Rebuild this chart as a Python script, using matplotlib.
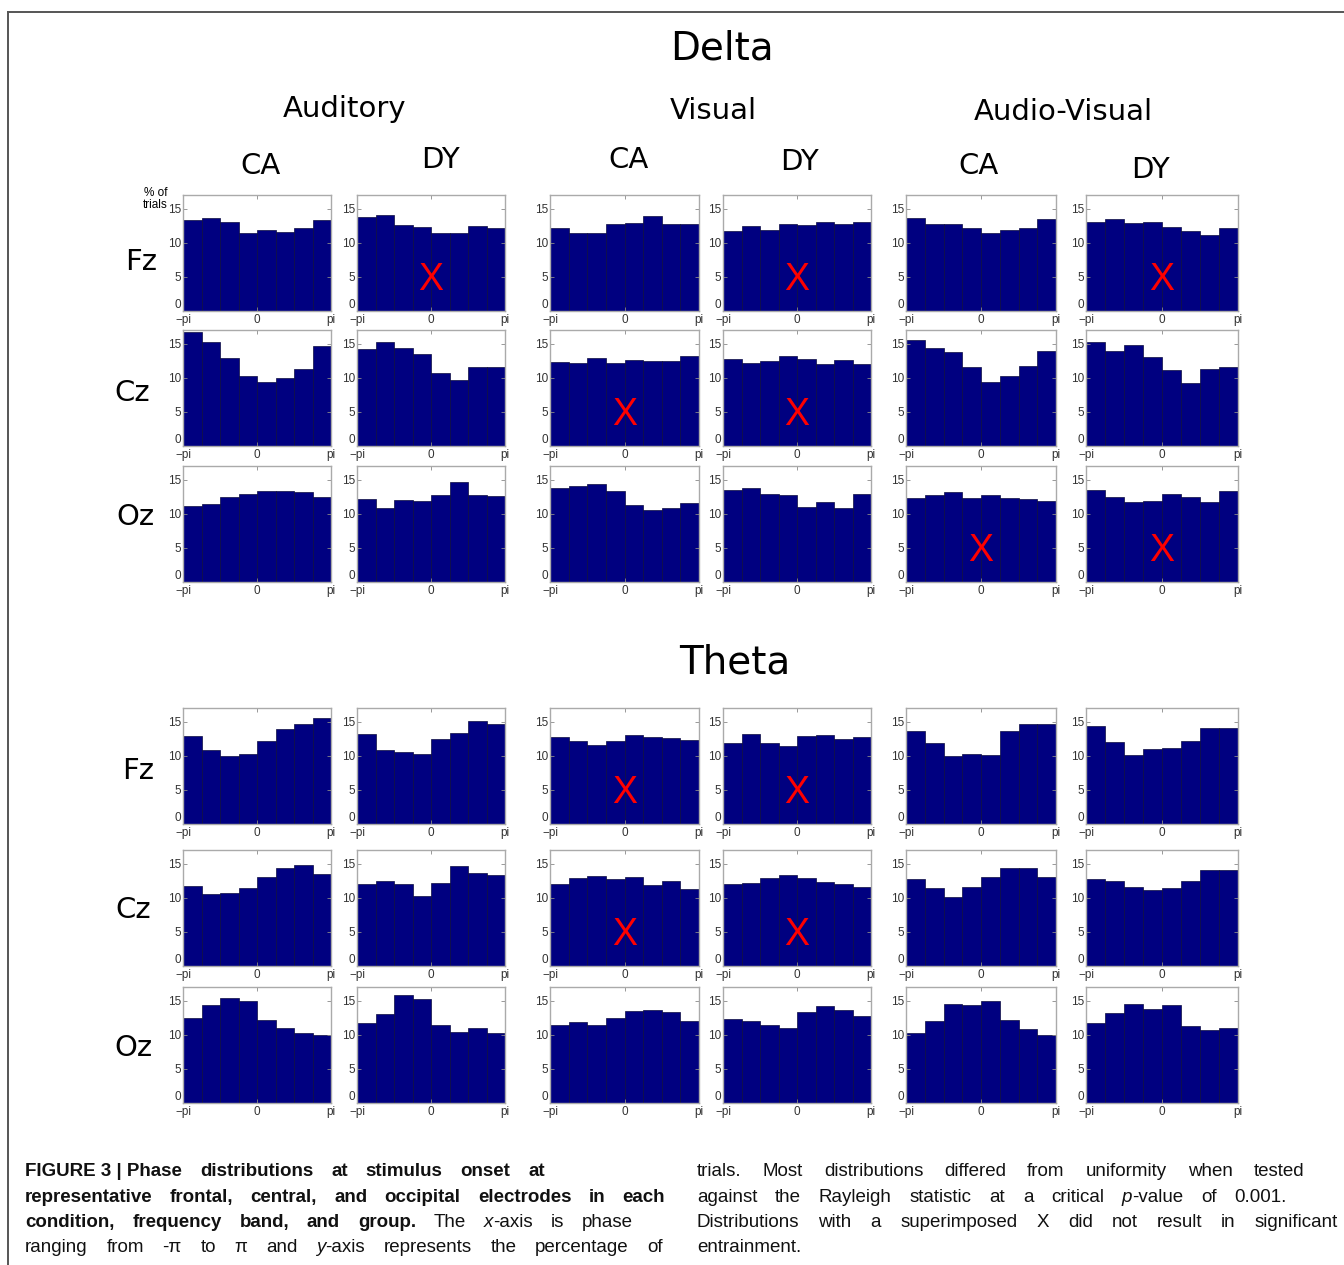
import numpy as np
import matplotlib.pyplot as plt
from matplotlib.lines import Line2D

W, H = 1344, 1265
narrow = ['Liberation Sans Narrow', 'DejaVu Sans Condensed', 'Liberation Sans', 'DejaVu Sans']

groups = ['Auditory', 'Visual', 'Audio-Visual']
subjects = ['CA', 'DY', 'CA', 'DY', 'CA', 'DY']
electrodes = ['Fz', 'Cz', 'Oz']

# % of trials in each of 8 phase bins (-pi..pi)
# columns: Aud CA, Aud DY, Vis CA, Vis DY, AV CA, AV DY
delta_fz = [[13.4, 13.7, 13.1, 11.5, 11.9, 11.6, 12.2, 13.4],
            [13.8, 14.0, 12.6, 12.3, 11.5, 11.5, 12.5, 12.2],
            [12.2, 11.4, 11.5, 12.7, 12.9, 13.9, 12.8, 12.8],
            [11.7, 12.4, 11.8, 12.7, 12.6, 13.1, 12.8, 13.1],
            [13.6, 12.7, 12.8, 12.2, 11.5, 11.9, 12.2, 13.5],
            [13.0, 13.5, 12.9, 13.0, 12.3, 11.7, 11.2, 12.2]]
delta_cz = [[16.7, 15.2, 12.9, 10.3, 9.4, 10.0, 11.3, 14.6],
            [14.2, 15.3, 14.4, 13.5, 10.7, 9.6, 11.6, 11.6],
            [12.3, 12.1, 12.9, 12.1, 12.6, 12.4, 12.4, 13.2],
            [12.7, 12.1, 12.4, 13.2, 12.7, 12.0, 12.6, 12.0],
            [15.6, 14.3, 13.8, 11.6, 9.4, 10.3, 11.7, 13.9],
            [15.2, 13.9, 14.8, 13.0, 11.1, 9.2, 11.3, 11.6]]
delta_oz = [[11.2, 11.4, 12.4, 12.9, 13.4, 13.3, 13.2, 12.5],
            [12.2, 10.9, 12.0, 11.8, 12.7, 14.6, 12.7, 12.6],
            [13.8, 14.0, 14.4, 13.4, 11.3, 10.6, 10.9, 11.6],
            [13.5, 13.8, 12.9, 12.8, 11.0, 11.7, 10.9, 12.9],
            [12.3, 12.8, 13.2, 12.3, 12.8, 12.3, 12.2, 11.8],
            [13.5, 12.4, 11.7, 11.8, 12.9, 12.5, 11.7, 13.3]]
theta_fz = [[12.9, 10.9, 10.0, 10.2, 12.1, 13.9, 14.6, 15.6],
            [13.2, 10.8, 10.6, 10.3, 12.5, 13.4, 15.1, 14.6],
            [12.7, 12.2, 11.6, 12.1, 13.1, 12.8, 12.6, 12.3],
            [11.9, 13.2, 11.8, 11.5, 12.9, 13.0, 12.4, 12.7],
            [13.6, 11.9, 9.9, 10.3, 10.1, 13.6, 14.7, 14.7],
            [14.4, 12.0, 10.1, 11.0, 11.1, 12.1, 14.0, 14.1]]
theta_cz = [[11.7, 10.5, 10.7, 11.4, 13.0, 14.3, 14.8, 13.5],
            [12.0, 12.5, 12.0, 10.3, 12.1, 14.6, 13.6, 13.3],
            [12.0, 12.9, 13.2, 12.7, 13.1, 11.9, 12.4, 11.3],
            [12.0, 12.1, 12.9, 13.3, 12.9, 12.3, 12.0, 11.6],
            [12.7, 11.5, 10.1, 11.6, 13.0, 14.4, 14.3, 13.0],
            [12.7, 12.4, 11.6, 11.2, 11.4, 12.5, 14.0, 14.0]]
theta_oz = [[12.5, 14.3, 15.4, 15.0, 12.2, 11.0, 10.3, 10.0],
            [11.7, 13.0, 15.9, 15.2, 11.5, 10.4, 11.0, 10.2],
            [11.5, 11.8, 11.5, 12.5, 13.5, 13.6, 13.4, 12.0],
            [12.3, 12.0, 11.5, 11.0, 13.3, 14.2, 13.7, 12.7],
            [10.2, 12.0, 14.5, 14.4, 14.9, 12.2, 10.8, 10.0],
            [11.7, 13.2, 14.5, 13.8, 14.4, 11.3, 10.7, 11.0]]

# (row, column) of distributions without significant entrainment
delta_nonsig = [(0, 1), (0, 3), (0, 5), (1, 2), (1, 3), (2, 4), (2, 5)]
theta_nonsig = [(0, 2), (0, 3), (1, 2), (1, 3)]

bands = [('Delta', [delta_fz, delta_cz, delta_oz], delta_nonsig),
         ('Theta', [theta_fz, theta_cz, theta_oz], theta_nonsig)]

fig = plt.figure(figsize=(W / 100, H / 100), dpi=100)


def fx(x):
    return x / W


def fy(y):
    return 1 - y / H


# panel geometry in pixels
col_x = [183, 357, 550, 723, 906, 1086]
col_w = [148, 148, 149, 148, 150, 152]
row_top = [[195, 330, 466], [708, 850, 987]]
panel_h = 116

edges = np.linspace(-np.pi, np.pi, 9)
for b, (band, rows, nonsig) in enumerate(bands):
    for r, row in enumerate(rows):
        for c, vals in enumerate(row):
            top = row_top[b][r]
            ax = fig.add_axes([fx(col_x[c]), fy(top + panel_h), fx(col_w[c]), panel_h / H])
            ax.bar(edges[:-1], vals, width=edges[1] - edges[0], align='edge',
                   color='#000080', edgecolor='#0c0c40', linewidth=0.5)
            ax.set_xlim(-np.pi, np.pi)
            ax.set_ylim(0, 17)
            ax.set_xticks([-np.pi, 0, np.pi])
            ax.set_xticklabels(['\u2212pi', '0', 'pi'])
            ax.set_yticks([0, 5, 10, 15])
            ax.tick_params(direction='in', length=3, width=0.6, color='#888888',
                           top=True, right=True, labelsize=8.5, labelcolor='#333333')
            ax.tick_params(axis='y', pad=1.5)
            ax.tick_params(axis='x', pad=2.5)
            for lab in ax.get_xticklabels() + ax.get_yticklabels():
                lab.set_family(narrow)
            # the "0" on y sits just above the corner, clear of "-pi"
            ax.get_yticklabels()[0].set_va('bottom')
            if (r, c) in nonsig:
                ax.text(0, 4.6, 'X', color='red', fontsize=27, family=narrow,
                        ha='center', va='center')
            for sp in ax.spines.values():
                sp.set_color('#aaaaaa')
                sp.set_linewidth(1.0)

# headings
fig.text(fx(722), fy(49), 'Delta', fontsize=28, ha='center', va='center')
fig.text(fx(735), fy(663), 'Theta', fontsize=28, ha='center', va='center')
for name, x, y in zip(groups, [345, 713, 1063], [109, 111, 112]):
    fig.text(fx(x), fy(y), name, fontsize=21, ha='center', va='center')
for name, x, y in zip(subjects, [261, 440, 629, 799, 978, 1151], [166, 160, 160, 162, 166, 170]):
    fig.text(fx(x), fy(y), name, fontsize=21, ha='center', va='center')
row_lab_pos = [[(141, 262), (132, 393), (135, 517)], [(138, 771), (133, 910), (133, 1048)]]
for pos in row_lab_pos:
    for name, (x, y) in zip(electrodes, pos):
        fig.text(fx(x), fy(y), name, fontsize=21, ha='center', va='center')
fig.text(fx(168), fy(199), '% of\ntrials', fontsize=8.5, family=narrow,
         ha='right', va='center', linespacing=1.0)

# frame around the figure
fig.add_artist(Line2D([fx(8), fx(8)], [fy(12), 0], color='#555555', lw=1.4))
fig.add_artist(Line2D([fx(8), 1], [fy(12), fy(12)], color='#555555', lw=1.4))

# caption, justified word by word ('~' keeps words together)
renderer = fig.canvas.get_renderer()


def caption_line(bold, normal, x0, x1, y):
    words = [[(w.replace('~', ' '), 'bold', 'normal')] for w in bold.split()]
    for w in normal.split():
        parts = w.split('_')
        words.append([(p, 'normal', 'italic' if i % 2 else 'normal')
                      for i, p in enumerate(parts) if p])
    placed = []
    for word in words:
        pieces = []
        for txt, wt, st in word:
            t = fig.text(0, fy(y), txt, fontsize=13.5, family=narrow, weight=wt,
                         style=st, va='baseline', color='#111111')
            pieces.append((t, t.get_window_extent(renderer).width))
        placed.append(pieces)
    widths = [sum(w for _, w in p) for p in placed]
    gap = 5 if x1 is None or len(placed) < 2 else max((x1 - x0 - sum(widths)) / (len(placed) - 1), 4)
    x = x0
    for pieces, wsum in zip(placed, widths):
        xp = x
        for t, w in pieces:
            t.set_x(fx(xp))
            xp += w
        x += wsum + gap


left_lines = [('FIGURE~3~|~Phase distributions at stimulus onset at', '', 545),
              ('representative frontal, central, and occipital electrodes in each', '', 665),
              ('condition, frequency band, and group.', 'The _x_-axis is phase', 633),
              ('', 'ranging from -\u03c0 to \u03c0 and _y_-axis represents the percentage of', 663)]
right_lines = [('', 'trials. Most distributions differed from uniformity when tested', 1304),
               ('', 'against the Rayleigh statistic at a critical _p_-value of 0.001.', 1287),
               ('', 'Distributions with a superimposed X did not result in significant', 1338),
               ('', 'entrainment.', None)]
baselines = [1176, 1202, 1227, 1252]
for (bt, nt, x1), y in zip(left_lines, baselines):
    caption_line(bt, nt, 25, x1, y)
for (bt, nt, x1), y in zip(right_lines, baselines):
    caption_line(bt, nt, 697, x1, y)

fig.savefig('out.png', dpi=100)
